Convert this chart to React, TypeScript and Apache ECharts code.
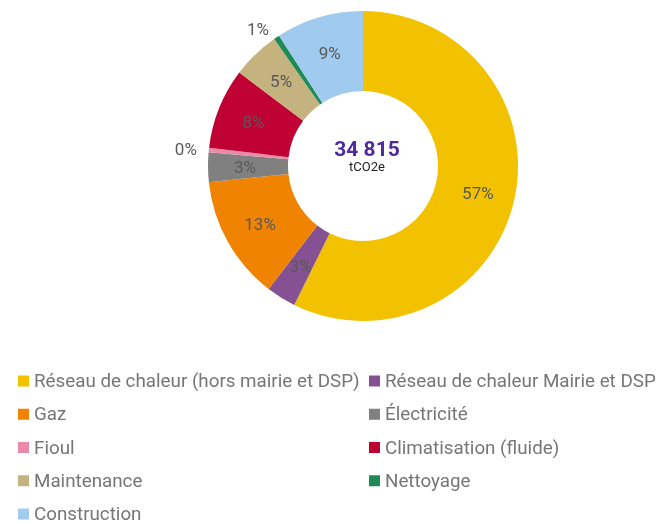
import React, { useEffect, useRef } from "react";
import * as echarts from "echarts";

const categories = [
  "Réseau de chaleur (hors mairie et DSP)",
  "Réseau de chaleur Mairie et DSP",
  "Gaz",
  "Électricité",
  "Fioul",
  "Climatisation (fluide)",
  "Maintenance",
  "Nettoyage",
  "Construction",
];
const values = [19955, 1080, 4490, 1080, 160, 2930, 1740, 210, 3170];
const colors = [
  "#F2C200",
  "#855193",
  "#F08300",
  "#808080",
  "#E98AA8",
  "#C00133",
  "#C4B27F",
  "#1E8A57",
  "#A0CBEE",
];
const outsideLabels = ["Fioul", "Nettoyage"];
const leftColumn = [categories[0], categories[2], categories[4], categories[6], categories[8]];
const rightColumn = [categories[1], categories[3], categories[5], categories[7]];
const totalLabel = "34 815";
const unitLabel = "tCO2e";

const FONT = "Roboto, sans-serif";

export default function App() {
  const ref = useRef<HTMLDivElement>(null);
  useEffect(() => {
    if (!ref.current) return;
    const chart = echarts.init(ref.current, undefined, { renderer: "svg" });
    const total = values.reduce((a, b) => a + b, 0);
    const legendCommon = {
      orient: "vertical" as const,
      top: 371,
      height: 170,
      itemWidth: 11,
      itemHeight: 11,
      itemGap: 13.25,
      icon: "rect",
      padding: 0,
      textStyle: { fontSize: 18.8, color: "#767676", fontFamily: FONT, lineHeight: 20 },
    };
    chart.setOption({
      animation: false,
      title: {
        text: totalLabel,
        subtext: unitLabel,
        left: 362,
        top: 133,
        textAlign: "center",
        itemGap: 1,
        textStyle: { fontSize: 21, fontWeight: "bold", color: "#4f2a9e", fontFamily: FONT },
        subtextStyle: { fontSize: 13, color: "#222", fontFamily: FONT },
      },
      legend: [
        { ...legendCommon, left: 18, data: leftColumn },
        { ...legendCommon, left: 369, data: rightColumn },
      ],
      series: [
        {
          type: "pie",
          center: [363, 166],
          radius: [75, 155],
          startAngle: 90,
          clockwise: true,
          avoidLabelOverlap: false,
          label: {
            show: true,
            position: "inside",
            fontSize: 17,
            color: "#595959",
            fontFamily: FONT,
            formatter: (p: any) => `${Math.round((p.value / total) * 100)}%`,
          },
          labelLine: { show: false, length: 10, length2: 0 },
          emphasis: { disabled: true },
          data: categories.map((name, i) => ({
            name,
            value: values[i],
            itemStyle: { color: colors[i] },
            label: outsideLabels.includes(name)
              ? { position: "outside", distanceToLabelLine: 2 }
              : undefined,
          })),
        },
      ],
    });
    return () => chart.dispose();
  }, []);
  return (
    <div
      ref={ref}
      style={{ position: "fixed", left: 0, top: 0, width: 659, height: 524 }}
    />
  );
}
